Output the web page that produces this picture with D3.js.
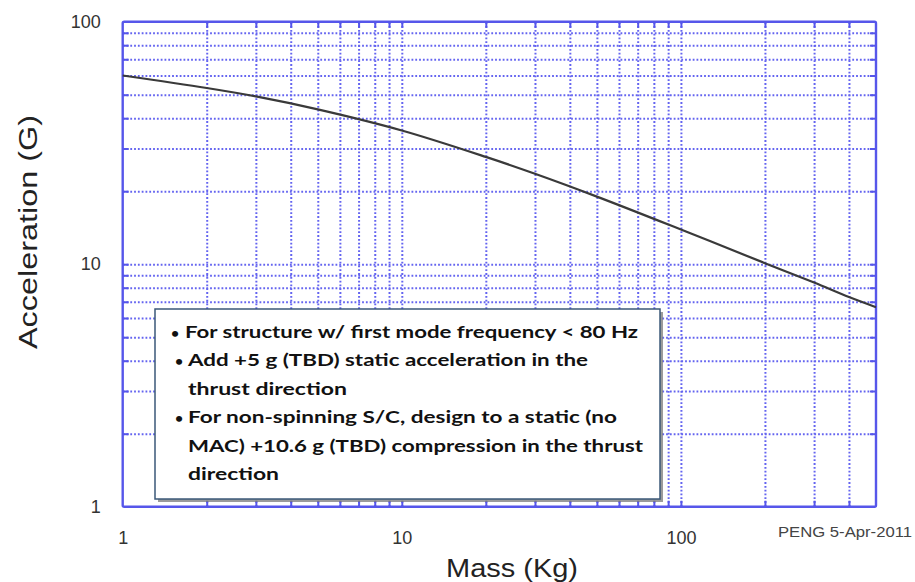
<!DOCTYPE html>
<html><head><meta charset="utf-8">
<script src="https://cdn.jsdelivr.net/npm/d3@7"></script>
<style>html,body{margin:0;padding:0;background:#fff;}svg{display:block;}</style>
</head><body>
<svg id="c" width="915" height="582"></svg>
<script>
// ---- data ----
const massKg = [1, 2, 3, 5, 10, 20, 30, 50, 100, 200, 300, 400, 500];
const accelG = [60, 53.3, 49.2, 43.5, 35.6, 27.7, 23.6, 19.0, 13.9, 10.1, 8.4, 7.32, 6.65];
const xTickLabels = [1, 10, 100];
const yTickLabels = [1, 10, 100];
const xGridValues = [2,3,4,5,6,7,8,9,10,20,30,40,50,60,70,80,90,100,200,300,400];
const yGridValues = [2,3,4,5,6,7,8,9,10,20,30,40,50,60,70,80,90];
const noteLines = [
  {bullet: true, text: "For structure w/ first mode frequency < 80 Hz"},
  {bullet: true, text: "Add +5 g (TBD) static acceleration in the"},
  {bullet: false, text: "thrust direction"},
  {bullet: true, text: "For non-spinning S/C, design to a static (no"},
  {bullet: false, text: "MAC) +10.6 g (TBD) compression in the thrust"},
  {bullet: false, text: "direction"}
];
const stamp = "PENG 5-Apr-2011";

// ---- layout ----
const svg = d3.select("#c");
const L = 122.7, R = 876, T = 21.7, B = 506.7;
const W = R - L, H = B - T;
const x = d3.scaleLog().domain([1, 500]).range([L, R]);
const y = d3.scaleLog().domain([1, 100]).range([B, T]);
const blue = "#5656ea";
const gridBlue = "#6464f0";
const font = "Arial, 'Liberation Sans', sans-serif";

// grid
svg.append("g").attr("transform", `translate(0,${B})`)
  .call(d3.axisBottom(x).tickValues(xGridValues).tickSize(-H).tickFormat(""))
  .call(g => g.select(".domain").remove())
  .call(g => g.selectAll("line").attr("stroke", gridBlue).attr("stroke-width", 2)
        .attr("stroke-dasharray", "1.8,2"));
svg.append("g").attr("transform", `translate(${L},0)`)
  .call(d3.axisLeft(y).tickValues(yGridValues).tickSize(-W).tickFormat(""))
  .call(g => g.select(".domain").remove())
  .call(g => g.selectAll("line").attr("stroke", gridBlue).attr("stroke-width", 2)
        .attr("stroke-dasharray", "1.8,2"));

// inner tick marks (all four sides)
const tickStyle = g => { g.select(".domain").remove(); g.selectAll("line").attr("stroke", blue).attr("stroke-width", 2); };
svg.append("g").attr("transform", `translate(0,${B})`)
  .call(d3.axisBottom(x).tickValues(xGridValues).tickSize(-6).tickFormat("")).call(tickStyle);
svg.append("g").attr("transform", `translate(0,${T})`)
  .call(d3.axisTop(x).tickValues(xGridValues).tickSize(-6).tickFormat("")).call(tickStyle);
svg.append("g").attr("transform", `translate(${L},0)`)
  .call(d3.axisLeft(y).tickValues(yGridValues).tickSize(-6).tickFormat("")).call(tickStyle);
svg.append("g").attr("transform", `translate(${R},0)`)
  .call(d3.axisRight(y).tickValues(yGridValues).tickSize(-6).tickFormat("")).call(tickStyle);

// frame
svg.append("rect").attr("x", L).attr("y", T).attr("width", W).attr("height", H)
  .attr("fill", "none").attr("stroke", blue).attr("stroke-width", 2.4).attr("rx", 1.5);

// curve
const line = d3.line().x((d, i) => x(massKg[i])).y(d => y(d)).curve(d3.curveCatmullRom.alpha(0.5));
svg.append("path").datum(accelG).attr("d", line)
  .attr("fill", "none").attr("stroke", "#3a3a3a").attr("stroke-width", 2.2);

// tick labels
svg.append("g").attr("transform", `translate(0,${B})`)
  .call(d3.axisBottom(x).tickValues(xTickLabels).tickSize(0).tickPadding(25).tickFormat(d3.format("d")))
  .call(g => g.select(".domain").remove())
  .call(g => g.selectAll("text").attr("font-family", font)
        .attr("font-size", 18).attr("fill", "#333"));
svg.append("g").attr("transform", `translate(${L - 22},0)`)
  .call(d3.axisLeft(y).tickValues(yTickLabels).tickSize(0).tickPadding(0).tickFormat(d3.format("d")))
  .call(g => g.select(".domain").remove())
  .call(g => g.selectAll("text").attr("font-family", font)
        .attr("font-size", 18).attr("fill", "#333"));

// axis titles
svg.append("text").attr("x", 512).attr("y", 577).attr("text-anchor", "middle")
  .attr("font-family", font).attr("font-size", 26).attr("fill", "#222")
  .attr("textLength", 132).attr("lengthAdjust", "spacingAndGlyphs")
  .text("Mass (Kg)");
svg.append("text").attr("transform", "translate(37,232) rotate(-90)").attr("text-anchor", "middle")
  .attr("font-family", font).attr("font-size", 26).attr("fill", "#222")
  .attr("textLength", 234).attr("lengthAdjust", "spacingAndGlyphs")
  .text("Acceleration (G)");

// stamp
svg.append("text").attr("x", 778).attr("y", 537)
  .attr("font-family", font).attr("font-size", 14).attr("fill", "#444")
  .attr("textLength", 134).attr("lengthAdjust", "spacingAndGlyphs").text(stamp);

// note box
const bx = 155, by = 309, bw = 505, bh = 190;
svg.append("rect").attr("x", bx + 3).attr("y", by + 3).attr("width", bw).attr("height", bh)
  .attr("fill", "#7a7a7a").attr("opacity", 0.75);
svg.append("rect").attr("x", bx).attr("y", by).attr("width", bw).attr("height", bh)
  .attr("fill", "#fff").attr("stroke", "#3b5878").attr("stroke-width", 1.5);
const lineWidths = [453, 400, 159, 429, 455, 91];
const tg = svg.append("g").attr("font-family", "Lato, 'Open Sans', sans-serif")
  .attr("font-weight", "bold").attr("font-size", 17).attr("fill", "#111");
noteLines.forEach((d, i) => {
  const cy = 332 + i * 28.4;
  const tx = i === 0 ? 185 : 188;
  if (d.bullet) tg.append("text").attr("x", i === 0 ? 171 : 175).attr("y", cy + 6)
    .attr("font-size", 14).text("•");
  tg.append("text").attr("x", tx).attr("y", cy + 6)
    .attr("textLength", lineWidths[i]).attr("lengthAdjust", "spacingAndGlyphs").text(d.text);
});
</script>
</body></html>
